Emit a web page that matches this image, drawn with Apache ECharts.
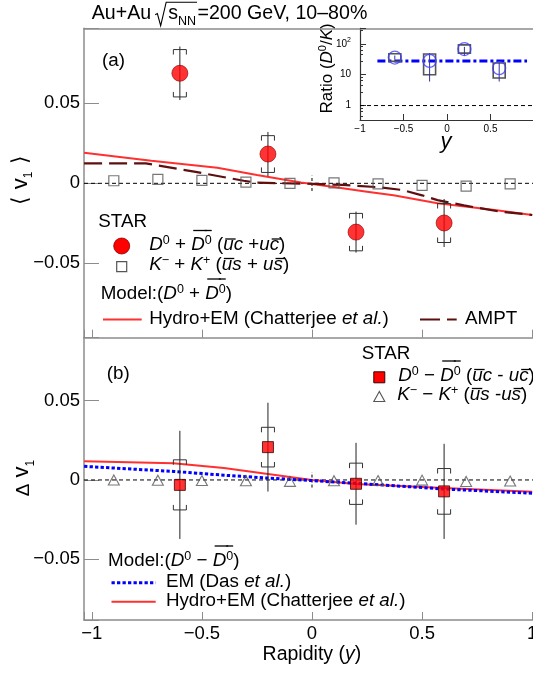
<!DOCTYPE html>
<html><head><meta charset="utf-8">
<script src="https://cdn.jsdelivr.net/npm/echarts@6/dist/echarts.min.js"></script>
<style>html,body{margin:0;padding:0;background:#fff}#c{width:533px;height:673px}</style>
</head><body><div id="c"></div>
<script>
// ---------------- data ----------------
const rapidityD = [-0.6, -0.2, 0.2, 0.6];
const v1Dsum = [0.0688, 0.0183, -0.0305, -0.0248];
const v1DsumStat = [0.0167, 0.0138, 0.0128, 0.0150];
const v1DsumSyst = [0.0148, 0.0115, 0.0117, 0.0122];

const rapidityK = [-0.9, -0.7, -0.5, -0.3, -0.1, 0.1, 0.3, 0.5, 0.7, 0.9];
const v1Ksum = [0.0016, 0.0025, 0.0019, 0.0008, 0.0, 0.0003, -0.0004, -0.0013, -0.0017, -0.0004];

const hydroSumX = [-1.035, -0.73, -0.43, -0.25, -0.05, 0.1, 0.25, 0.37, 0.57, 0.83, 1.0];
const hydroSumY = [0.0191, 0.0141, 0.0098, 0.0052, 0.0005, -0.0023, -0.0052, -0.0075, -0.0125, -0.0167, -0.0198];
const amptX = [-1.035, -0.755, -0.535, -0.31, -0.25, 0.02, 0.14, 0.31, 0.41, 0.5, 0.57, 0.69, 0.85, 1.0];
const amptY = [0.0125, 0.0125, 0.0073, 0.0016, 0.0004, -0.0004, -0.001, -0.0025, -0.0042, -0.0075, -0.0105, -0.0138, -0.0176, -0.0198];

const dv1D = [-0.0031, 0.0207, -0.0024, -0.0072];
const dv1DStat = [0.0341, 0.0280, 0.0258, 0.0300];
const dv1DSyst = [0.0158, 0.0125, 0.0130, 0.0144];
const dv1K = [0.0, -0.0002, -0.0004, -0.0005, -0.0009, -0.0005, -0.0004, -0.0001, -0.0010, -0.0007];

const hydroDiffX = [-1.035, -0.63, -0.4, -0.2, 0.0, 0.2, 0.6, 1.0];
const hydroDiffY = [0.0118, 0.0105, 0.0075, 0.0038, 0.0, -0.0025, -0.0050, -0.0074];
const emDiffX = [-1.035, -0.63, -0.4, -0.2, 0.0, 0.2, 0.6, 1.0];
const emDiffY = [0.0086, 0.0054, 0.0030, 0.0012, -0.0004, -0.0021, -0.0057, -0.0084];

const ratio = [36, 28, 68, 16.4];
const ratioStatLo = [31, 6, 41, 6];
const ratioStatHi = [42, 50, 80, 24];
const ratioSystLo = [27, 10, 50, 7.8];
const ratioSystHi = [48, 47, 93, 24];
const ratioFitValue = 28;
const ratioFitRange = [-0.8, 0.92];

const xTickValues = [-1, -0.5, 0, 0.5, 1];
const yTickValues = [-0.05, 0, 0.05];
const insetXTickValues = [-1, -0.5, 0, 0.5];
const insetYTickValues = [1, 10, 100];
const zeroMarkSpan = [-0.0048, 0.0048];

// ---------------- helpers ----------------
const FF = '"Liberation Sans", Arial, Helvetica, sans-serif';
const AXC = '#8c8c8c';
const X0 = -1.0354, X1 = 1.0037;
const LS = 18.8;
const near = (v, arr) => arr.some(t => Math.abs(t - v) < 1e-6);
const fmtNum = v => (v < -1e-9 ? '\u2212' : '') + String(+Math.abs(v).toFixed(3));

const mctx = document.createElement('canvas').getContext('2d');
const fnt = (s, it) => (it ? 'italic ' : '') + s + 'px ' + FF;
function runWidth(pieces) {
  let w = 0;
  pieces.forEach(p => { if (p.gap) { w += p.gap; return; } mctx.font = fnt(p.s || LS, p.i); w += mctx.measureText(p.t).width; });
  return w;
}
function textRun(x0, base, pieces, out) {
  let x = x0;
  pieces.forEach(p => {
    if (p.gap) { x += p.gap; return; }
    const sz = p.s || LS, f = fnt(sz, p.i);
    mctx.font = f;
    const w = mctx.measureText(p.t).width;
    const b = base + (p.dy || 0);
    out.push({type: 'text', x: x, y: b - 0.35 * sz, silent: true,
      style: {text: p.t, font: f, fill: '#000', textAlign: 'left', textVerticalAlign: 'middle', align: 'left', verticalAlign: 'middle'}});
    if (p.o) {
      const sh = p.i ? 2 : 0;
      out.push({type: 'line', silent: true, shape: {x1: x + sh, y1: base - p.o, x2: x + w + sh, y2: base - p.o}, style: {stroke: '#000', lineWidth: 1.3}});
    }
    x += w;
  });
  return x;
}
const G = [];
function rotRun(cx, cy, base, pieces) {
  const ch = [];
  const w = runWidth(pieces);
  textRun(-w / 2, base, pieces, ch);
  G.push({type: 'group', x: cx, y: cy, rotation: Math.PI / 2, children: ch});
}
const SUP = (t, o) => ({t: t, s: 12.5, dy: -6.5, o: o});

// ---------------- texts ----------------
// title
(function () {
  const b = 20.7, S = 19.6;
  let x = textRun(91.8, b, [{t: 'Au+Au', s: S}], G);
  const xr = x + 4;
  const x2 = textRun(xr + 13, b, [{t: 's', s: S}, {t: 'NN', s: 12.5, dy: 5.5}], G);
  G.push({type: 'polyline', silent: true, shape: {points: [[xr, b - 6], [xr + 2.2, b - 7.2], [xr + 5.5, b + 5], [xr + 11, b - 18.5], [x2 + 1, b - 18.5]]},
    style: {stroke: '#000', lineWidth: 1.1, fill: 'none'}});
  textRun(x2 + 1.5, b, [{t: '=200 GeV, 10\u201380%', s: S}], G);
})();

// panel labels
textRun(102, 67, [{t: '(a)'}], G);
textRun(106.7, 380, [{t: '(b)'}], G);

// legend (a)
textRun(98.3, 228.5, [{t: 'STAR'}], G);
G.push({type: 'circle', silent: true, shape: {cx: 121.7, cy: 246, r: 8}, style: {fill: '#ff0000', stroke: '#8b0000', lineWidth: 0.8}});
textRun(149.3, 251.5, [{t: 'D', i: 1}, SUP('0'), {t: ' + '}, {t: 'D', i: 1, o: 21}, SUP('0', 21), {t: ' ('},
  {t: 'u', i: 1, o: 12.5}, {t: 'c', i: 1}, {t: ' +'}, {t: 'u', i: 1}, {t: 'c', i: 1, o: 12.5}, {t: ')'}], G);
G.push({type: 'rect', silent: true, shape: {x: 116.7, y: 261.7, width: 10, height: 10}, style: {fill: 'none', stroke: '#555', lineWidth: 1.2}});
textRun(149.3, 271, [{t: 'K', i: 1}, SUP('\u2212'), {t: ' + '}, {t: 'K', i: 1}, SUP('+'), {t: ' ('},
  {t: 'u', i: 1, o: 12.5}, {t: 's', i: 1}, {t: ' + '}, {t: 'u', i: 1}, {t: 's', i: 1, o: 12.5}, {t: ')'}], G);
textRun(100.7, 300, [{t: 'Model:('}, {t: 'D', i: 1}, SUP('0'), {t: ' + '}, {t: 'D', i: 1, o: 21}, SUP('0', 21), {t: ')'}], G);
G.push({type: 'line', silent: true, shape: {x1: 103, y1: 319.5, x2: 141.7, y2: 319.5}, style: {stroke: '#ff3030', lineWidth: 2}});
textRun(149.3, 325, [{t: 'Hydro+EM (Chatterjee '}, {t: 'et al.', i: 1}, {t: ')'}], G);
G.push({type: 'line', silent: true, shape: {x1: 420, y1: 319.5, x2: 456.7, y2: 319.5}, style: {stroke: '#5e0f0f', lineWidth: 2.2, lineDash: [20, 7]}});
textRun(465, 325, [{t: 'AMPT'}], G);

// legend (b)
textRun(361.7, 360.5, [{t: 'STAR'}], G);
G.push({type: 'rect', silent: true, shape: {x: 373.8, y: 371.8, width: 11, height: 11}, style: {fill: '#ff0000', stroke: '#3a0000', lineWidth: 1}});
textRun(398.3, 382, [{t: 'D', i: 1}, SUP('0'), {t: ' \u2212 '}, {t: 'D', i: 1, o: 21}, SUP('0', 21), {t: ' ('},
  {t: 'u', i: 1, o: 12.5}, {t: 'c', i: 1}, {t: ' - '}, {t: 'u', i: 1}, {t: 'c', i: 1, o: 12.5}, {t: ')'}], G);
G.push({type: 'polygon', silent: true, shape: {points: [[379.3, 391.5], [373.8, 401.5], [384.8, 401.5]]}, style: {fill: 'none', stroke: '#555', lineWidth: 1.1}});
textRun(397.3, 401, [{t: 'K', i: 1}, SUP('\u2212'), {t: ' \u2212 '}, {t: 'K', i: 1}, SUP('+'), {t: ' ('},
  {t: 'u', i: 1, o: 12.5}, {t: 's', i: 1}, {t: ' -'}, {t: 'u', i: 1}, {t: 's', i: 1, o: 12.5}, {t: ')'}], G);

// legend bottom of (b)
textRun(108.1, 567, [{t: 'Model:('}, {t: 'D', i: 1}, SUP('0'), {t: ' \u2212 '}, {t: 'D', i: 1, o: 21}, SUP('0', 21), {t: ')'}], G);
G.push({type: 'line', silent: true, shape: {x1: 111.5, y1: 582.7, x2: 155.7, y2: 582.7}, style: {stroke: '#0000ff', lineWidth: 3, lineDash: [3.3, 2.2]}});
textRun(165.9, 588.3, [{t: 'EM (Das '}, {t: 'et al.', i: 1}, {t: ')'}], G);
G.push({type: 'line', silent: true, shape: {x1: 111.5, y1: 601.7, x2: 155.7, y2: 601.7}, style: {stroke: '#ff3030', lineWidth: 2}});
textRun(165.9, 607.3, [{t: 'Hydro+EM (Chatterjee '}, {t: 'et al.', i: 1}, {t: ')'}], G);

// axis titles
(function () {
  const p = [{t: 'Rapidity (', s: 19.5}, {t: 'y', s: 19.5, i: 1}, {t: ')', s: 19.5}];
  textRun(311.9 - runWidth(p) / 2, 661.7, p, G);
})();
rotRun(23, 180, 5.2, [{t: '\u27E8', s: 22}, {gap: 7}, {t: 'v', s: 22}, {t: '1', s: 12, dy: 5}, {gap: 8}, {t: '\u27E9', s: 22}]);
rotRun(24, 478, 6, [{t: '\u0394', s: 19}, {gap: 6}, {t: 'v', s: 22}, {t: '1', s: 12, dy: 5}]);
rotRun(333.3, 68.4, 0, [{t: 'Ratio (', s: 17}, {t: 'D', s: 17, i: 1}, {t: '0', s: 11, dy: -6.5}, {t: '/', s: 17}, {t: 'K', s: 17, i: 1}, {t: ')', s: 17}]);
(function () {
  const p = [{t: 'y', s: 22, i: 1}];
  textRun(446 - runWidth(p) / 2, 150, p, G);
})();

// ---------------- axes ----------------
function xMain(gi, showLabels) {
  return {type: 'value', gridIndex: gi, position: 'bottom', min: X0, max: X1, splitNumber: 4,
    axisLine: {show: true, onZero: false, lineStyle: {color: AXC, width: 1.5}},
    axisTick: {show: true, inside: true, length: 8, lineStyle: {color: AXC, width: 1}},
    axisLabel: {show: showLabels, margin: 4, fontFamily: FF, fontSize: 18.5, color: '#000',
      showMinLabel: true, showMaxLabel: true, hideOverlap: false,
      formatter: v => near(v, xTickValues) ? fmtNum(v) : ''},
    splitLine: {show: false}};
}
function yMain(gi, mn, mx) {
  return {type: 'value', gridIndex: gi, min: mn, max: mx, splitNumber: 3,
    axisLine: {show: true, onZero: false, lineStyle: {color: AXC, width: 1.5}},
    axisTick: {show: true, inside: true, length: 15, lineStyle: {color: AXC, width: 1}},
    axisLabel: {margin: 4, fontFamily: FF, fontSize: 18.5, color: '#000', showMinLabel: true, showMaxLabel: true,
      formatter: v => near(v, yTickValues) ? fmtNum(v) : ''},
    splitLine: {show: false}};
}

const xAxes = [
  xMain(0, false),
  xMain(1, true),
  {type: 'value', gridIndex: 2, position: 'bottom', min: -1, max: 1, splitNumber: 4,
    axisLine: {show: true, onZero: false, lineStyle: {color: '#333', width: 1.2}},
    axisTick: {show: true, inside: true, length: 6, lineStyle: {color: '#333', width: 1}},
    axisLabel: {margin: 4, fontFamily: FF, fontSize: 10, color: '#000',
      formatter: v => near(v, insetXTickValues) ? fmtNum(v) : ''},
    splitLine: {show: false}},
  {type: 'value', gridIndex: 0, position: 'top', min: X0, max: X1,
    axisLine: {show: true, onZero: false, lineStyle: {color: AXC, width: 1.5}},
    axisTick: {show: false}, axisLabel: {show: false}, splitLine: {show: false}}
];
const yAxes = [
  yMain(0, -0.0965, 0.0969),
  yMain(1, -0.0883, 0.0897),
  {type: 'log', logBase: 10, gridIndex: 2, min: 0.34, max: 320,
    axisLine: {show: true, onZero: false, lineStyle: {color: '#333', width: 1.2}},
    axisTick: {show: true, inside: true, length: 6, lineStyle: {color: '#333', width: 1}},
    minorTick: {show: true, splitNumber: 5, length: 3, lineStyle: {color: '#333', width: 1}},
    axisLabel: {margin: 9, color: '#000',
      formatter: v => {
        if (!near(v, insetYTickValues)) return '';
        const e = Math.round(Math.log10(v));
        return e === 2 ? '{n|10}{s|2}' : '{n|' + Math.round(v) + '}';
      },
      rich: {n: {fontFamily: FF, fontSize: 10, color: '#000', lineHeight: 14},
        s: {fontFamily: FF, fontSize: 7, color: '#000', verticalAlign: 'top', lineHeight: 8}}},
    splitLine: {show: false}}
];

// ---------------- series ----------------
const pairs = (xs, ys) => xs.map((x, i) => [x, ys[i]]);
function lineSeries(xi, yi, data, color, width, type, z) {
  return {type: 'line', xAxisIndex: xi, yAxisIndex: yi, data: data, symbol: 'none', silent: true, z: z || 2,
    lineStyle: {color: color, width: width, type: type || 'solid'}, animation: false};
}
function errRender(params, api) {
  const x = api.value(0), y = api.value(1), st = api.value(2), sy = api.value(3);
  const c = api.coord([x, y]);
  const t = api.coord([x, y + st]), b = api.coord([x, y - st]);
  const st1 = api.coord([x, y + sy]), sb1 = api.coord([x, y - sy]);
  const hw = 6.5, leg = 5;
  const sty = {stroke: '#333', lineWidth: 1, fill: 'none'};
  return {type: 'group', children: [
    {type: 'line', shape: {x1: c[0], y1: t[1], x2: c[0], y2: b[1]}, style: {stroke: '#222', lineWidth: 1}},
    {type: 'polyline', shape: {points: [[c[0] - hw, st1[1] + leg], [c[0] - hw, st1[1]], [c[0] + hw, st1[1]], [c[0] + hw, st1[1] + leg]]}, style: sty},
    {type: 'polyline', shape: {points: [[c[0] - hw, sb1[1] - leg], [c[0] - hw, sb1[1]], [c[0] + hw, sb1[1]], [c[0] + hw, sb1[1] - leg]]}, style: sty}
  ]};
}
function boxRender(params, api) {
  const x = api.value(0), lo = api.value(1), hi = api.value(2);
  const a = api.coord([x, hi]), b = api.coord([x, lo]);
  return {type: 'rect', shape: {x: a[0] - 6, y: a[1], width: 12, height: b[1] - a[1]}, style: {stroke: '#555', lineWidth: 1.6, fill: 'none'}};
}
function statRender(params, api) {
  const x = api.value(0), lo = api.value(1), hi = api.value(2);
  const a = api.coord([x, hi]), b = api.coord([x, lo]);
  return {type: 'line', shape: {x1: a[0], y1: a[1], x2: b[0], y2: b[1]}, style: {stroke: '#333399', lineWidth: 1}};
}

const series = [
  // panel (a)
  lineSeries(0, 0, [[X0, 0], [X1, 0]], '#000', 1, [4, 3], 1),
  lineSeries(0, 0, [[0, zeroMarkSpan[0]], [0, zeroMarkSpan[1]]], '#000', 1, [3, 2], 1),
  lineSeries(0, 0, pairs(hydroSumX, hydroSumY), '#ff3030', 2, 'solid', 2),
  lineSeries(0, 0, pairs(amptX, amptY), '#5e0f0f', 2.2, [18, 7], 2),
  {type: 'scatter', xAxisIndex: 0, yAxisIndex: 0, data: pairs(rapidityK, v1Ksum), symbol: 'rect', symbolSize: 10, z: 4, silent: true,
    itemStyle: {color: 'rgba(255,255,255,0)', borderColor: '#555', borderWidth: 1.2}},
  {type: 'custom', xAxisIndex: 0, yAxisIndex: 0, renderItem: errRender, z: 3, silent: true,
    data: rapidityD.map((x, i) => [x, v1Dsum[i], v1DsumStat[i], v1DsumSyst[i]]), encode: {x: 0, y: 1}},
  {type: 'scatter', xAxisIndex: 0, yAxisIndex: 0, data: pairs(rapidityD, v1Dsum), symbol: 'circle', symbolSize: 16, z: 5, silent: true,
    itemStyle: {color: '#ff0000', borderColor: '#8b0000', borderWidth: 0.8}},
  // panel (b)
  lineSeries(1, 1, [[X0, 0], [X1, 0]], '#000', 1, [4, 3], 1),
  lineSeries(1, 1, [[0, zeroMarkSpan[0]], [0, zeroMarkSpan[1]]], '#000', 1, [3, 2], 1),
  lineSeries(1, 1, pairs(hydroDiffX, hydroDiffY), '#ff3030', 2, 'solid', 2),
  lineSeries(1, 1, pairs(emDiffX, emDiffY), '#0000ff', 3, [3.3, 2.2], 2),
  {type: 'scatter', xAxisIndex: 1, yAxisIndex: 1, data: pairs(rapidityK, dv1K), symbol: 'triangle', symbolSize: [11, 10], z: 4, silent: true,
    itemStyle: {color: 'rgba(255,255,255,0)', borderColor: '#555', borderWidth: 1.1}},
  {type: 'custom', xAxisIndex: 1, yAxisIndex: 1, renderItem: errRender, z: 3, silent: true,
    data: rapidityD.map((x, i) => [x, dv1D[i], dv1DStat[i], dv1DSyst[i]]), encode: {x: 0, y: 1}},
  {type: 'scatter', xAxisIndex: 1, yAxisIndex: 1, data: pairs(rapidityD, dv1D), symbol: 'rect', symbolSize: 11, z: 5, silent: true,
    itemStyle: {color: '#ff0000', borderColor: '#3a0000', borderWidth: 1}},
  // inset
  lineSeries(2, 2, [[-1, 1], [1, 1]], '#000', 1, [4, 3], 1),
  lineSeries(2, 2, [[ratioFitRange[0], ratioFitValue], [ratioFitRange[1], ratioFitValue]], '#0000ff', 3, [8, 3, 3, 3], 2),
  {type: 'custom', xAxisIndex: 2, yAxisIndex: 2, renderItem: boxRender, z: 3, silent: true,
    data: rapidityD.map((x, i) => [x, ratioSystLo[i], ratioSystHi[i]]), encode: {x: 0, y: [1, 2]}},
  {type: 'custom', xAxisIndex: 2, yAxisIndex: 2, renderItem: statRender, z: 3, silent: true,
    data: rapidityD.map((x, i) => [x, ratioStatLo[i], ratioStatHi[i]]), encode: {x: 0, y: [1, 2]}},
  {type: 'scatter', xAxisIndex: 2, yAxisIndex: 2, data: pairs(rapidityD, ratio), symbol: 'circle', symbolSize: 13, z: 5, silent: true,
    itemStyle: {color: 'rgba(255,255,255,0)', borderColor: '#4040ff', borderWidth: 1.3}}
];

const chart = echarts.init(document.getElementById('c'), null, {renderer: 'canvas'});
chart.setOption({
  animation: false,
  backgroundColor: '#fff',
  grid: [
    {left: 84, top: 28.3, width: 449, height: 309.4, containLabel: false, outerBoundsMode: 'none'},
    {left: 84, top: 337.7, width: 449, height: 282.3, containLabel: false, outerBoundsMode: 'none'},
    {left: 360, top: 28.3, width: 174, height: 91.7, containLabel: false, outerBoundsMode: 'none'}
  ],
  xAxis: xAxes,
  yAxis: yAxes,
  series: series,
  graphic: {elements: G}
});
</script></body></html>
